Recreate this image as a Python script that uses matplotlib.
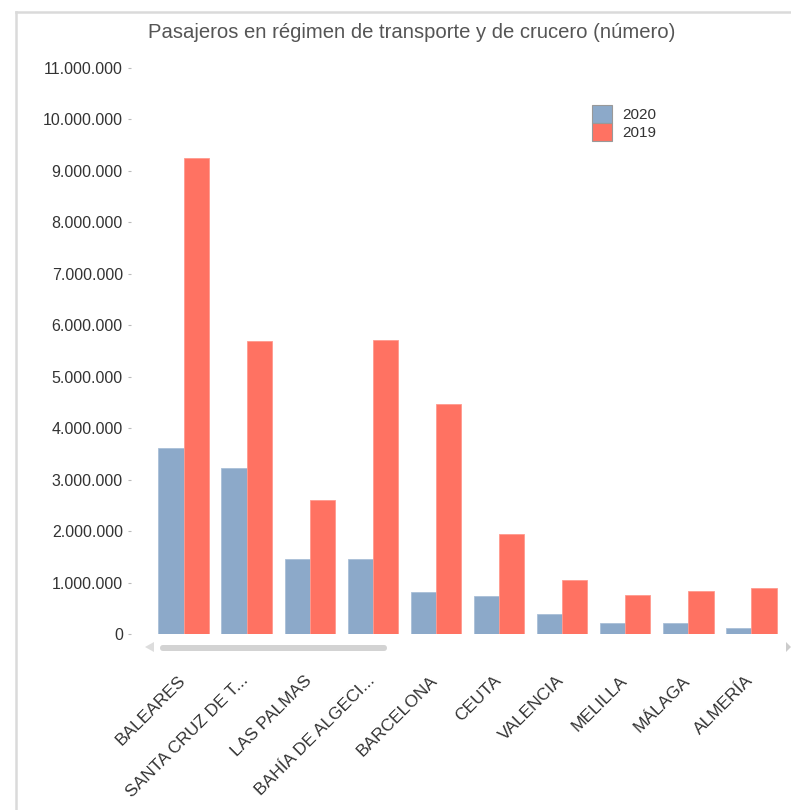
import matplotlib
matplotlib.use("Agg")
import matplotlib.pyplot as plt
from matplotlib.patches import FancyBboxPatch, Polygon
from matplotlib.lines import Line2D
from matplotlib.ticker import FuncFormatter
from matplotlib.transforms import ScaledTranslation
import numpy as np

categories = ["BALEARES", "SANTA CRUZ DE T...", "LAS PALMAS", "BAHÍA DE ALGECI...",
              "BARCELONA", "CEUTA", "VALENCIA", "MELILLA", "MÁLAGA", "ALMERÍA"]
values_2020 = [3615000, 3230000, 1460000, 1460000, 815000, 740000, 390000, 210000, 210000, 120000]
values_2019 = [9250000, 5690000, 2600000, 5710000, 4470000, 1940000, 1050000, 760000, 840000, 890000]
yticks = list(range(0, 11000001, 1000000))

plt.rcParams['font.family'] = ['Liberation Sans', 'DejaVu Sans']

W, H = 791, 810
fig = plt.figure(figsize=(W / 100, H / 100), dpi=100)
ax = fig.add_axes([152 / W, 1 - 634 / H, (783 - 152) / W, (634 - 68) / H])

x = np.arange(len(categories))
c2020 = "#8CA9C9"
c2019 = "#FF7262"
ax.bar(x - 0.2, values_2020, width=0.4, color=c2020, edgecolor="#a9bfd8", linewidth=0.6, label="2020")
ax.bar(x + 0.2, values_2019, width=0.4, color=c2019, edgecolor="#ff9a8e", linewidth=0.6, label="2019")

ax.set_xlim(-0.5, len(categories) - 0.5)
ax.set_ylim(0, 11000000)
ax.set_yticks(yticks)
ax.yaxis.set_major_formatter(FuncFormatter(lambda v, p: f"{int(v):,}".replace(",", ".")))
for s in ax.spines.values():
    s.set_visible(False)
ax.spines['left'].set_position(('outward', 15))
ax.tick_params(axis='y', length=2, width=0.8, color="#bbbbbb", labelsize=11.5,
               labelcolor="#333333", pad=4)
ax.set_xticks(x)
ax.set_xticklabels(categories, rotation=45, ha='right', va='top', rotation_mode='anchor',
                   fontsize=12.5, color="#333333")
ax.tick_params(axis='x', length=0, pad=28)
off = ScaledTranslation(-6 / 100, 0, fig.dpi_scale_trans)
for lbl in ax.get_xticklabels():
    lbl.set_transform(lbl.get_transform() + off)

# title
fig.text(412 / W, 1 - 33 / H, "Pasajeros en régimen de transporte y de crucero (número)",
         ha='center', va='center', fontsize=14.6, color="#555555")

# legend
ax.legend(loc='upper left', bbox_to_anchor=(592 / W, 1 - 105 / H), bbox_transform=fig.transFigure,
          frameon=False, borderpad=0, borderaxespad=0, labelspacing=0.0,
          handlelength=1.3, handleheight=1.44, handletextpad=0.7, fontsize=11,
          labelcolor="#333333")
for h in ax.get_legend().legend_handles:
    h.set_edgecolor("#999999")
    h.set_linewidth(0.8)

# scrollbar
bar = FancyBboxPatch((160 / W, 1 - 651 / H), (387 - 160) / W, 6 / H,
                     boxstyle="round,pad=0,rounding_size=0.004", transform=fig.transFigure,
                     facecolor="#d3d3d3", edgecolor="none")
fig.patches.append(bar)
fig.patches.append(Polygon([(145 / W, 1 - 647 / H), (154 / W, 1 - 642 / H), (154 / W, 1 - 652 / H)],
                           closed=True, transform=fig.transFigure, facecolor="#dddddd", edgecolor="none"))
fig.patches.append(Polygon([(791 / W, 1 - 647 / H), (786 / W, 1 - 642 / H), (786 / W, 1 - 652 / H)],
                           closed=True, transform=fig.transFigure, facecolor="#cccccc", edgecolor="none"))

# frame lines
fig.lines.append(Line2D([16 / W, 1], [1 - 12 / H, 1 - 12 / H], transform=fig.transFigure,
                        color="#dadada", linewidth=1.8))
fig.lines.append(Line2D([16 / W, 16 / W], [1 - 12 / H, 0], transform=fig.transFigure,
                        color="#dadada", linewidth=1.8))

fig.savefig("out.png", dpi=100)
